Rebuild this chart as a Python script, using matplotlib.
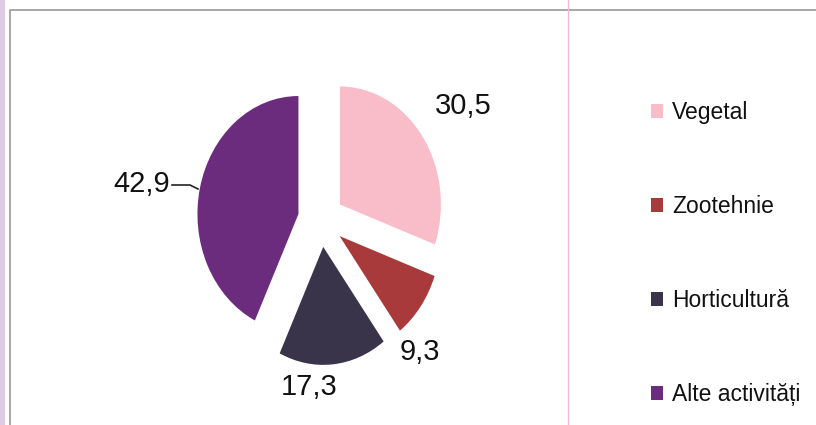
import matplotlib
matplotlib.use("Agg")
from matplotlib import pyplot as plt
from matplotlib.patches import Rectangle

# data
categories = ["Vegetal", "Zootehnie", "Horticultură", "Alte activități"]
values = [30.5, 9.3, 17.3, 42.9]
value_labels = ["30,5", "9,3", "17,3", "42,9"]
colors = ["#F8BDC8", "#A83A3C", "#39344A", "#6C2C7E"]

fonts = ["Liberation Sans", "DejaVu Sans"]

W, H = 816, 425
squash = 0.856  # the scanned chart is narrower than tall

fig = plt.figure(figsize=(W / 100, H / 100), dpi=100)

# pixel-like layer for the frame and texts
ax = fig.add_axes([0, 0, 1, 1])
ax.set_xlim(0, W)
ax.set_ylim(0, H)
ax.axis("off")

# pie layer, x squeezed like the scan
pax = fig.add_axes([0, 0, 1, 1])
pax.axis("off")

ax.add_patch(Rectangle((0, 0), 5, H, color="#DCCBE3", lw=0))
ax.plot([10, 10, W], [0, H - 10, H - 10], color="#A0A0A0", lw=1.3)
ax.plot([568, 568], [0, H], color="#F2B8D8", lw=1)

# pie, all slices pulled out, clockwise from the top
wedges, _ = pax.pie(values, colors=colors, startangle=90, counterclock=False,
                    center=(321 / squash, 205), radius=118, explode=[27] * 4,
                    wedgeprops=dict(linewidth=0))
pax.set_aspect("auto")
pax.set_xlim(0, W / squash)
pax.set_ylim(0, H)

# data labels
label_pos = [(463, 319), (420, 73), (309, 38), (142, 241)]
for (x, y), t in zip(label_pos, value_labels):
    ax.text(x, y, t, fontsize=21, family=fonts, ha="center", va="center",
            color="#111111")
# leader line for 42,9
ax.plot([172, 190, 198], [240, 240, 236], color="#222222", lw=1.2)

leg = ax.legend(wedges, categories, loc="upper left",
                bbox_to_anchor=(651 / W, 1 - 101 / H), frameon=False,
                prop=dict(family=fonts, size=16.5), labelspacing=3.1,
                handlelength=0.52, handleheight=0.52, handletextpad=0.4,
                borderpad=0, borderaxespad=0, labelcolor="#111111")

fig.savefig("out.png", dpi=100)
